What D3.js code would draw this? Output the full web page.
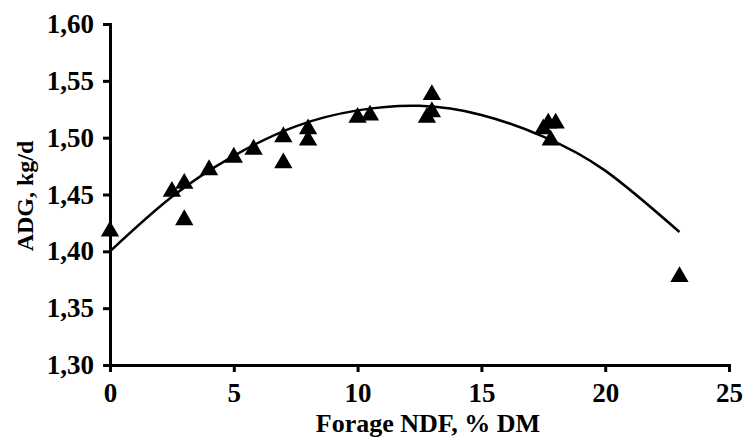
<!DOCTYPE html>
<html>
<head>
<meta charset="utf-8">
<script src="https://cdn.jsdelivr.net/npm/d3@7"></script>
<style>
  body { margin: 0; background: #fff; }
  text { font-family: "Liberation Serif", "Times New Roman", serif; font-weight: bold; fill: #000; }
</style>
</head>
<body>
<div id="chart"></div>
<script>
// observed points: forage NDF (% DM) and ADG (kg/d)
var ndfValues = [0, 2.5, 3, 3, 4, 5, 5.8, 7, 7, 8, 8, 10, 10.5, 12.8, 13, 13, 17.5, 17.7, 18, 17.8, 23];
var adgValues = [1.42, 1.455, 1.462, 1.43, 1.474, 1.485, 1.492, 1.503, 1.48, 1.51, 1.50, 1.52, 1.522, 1.52, 1.54, 1.525, 1.51, 1.515, 1.515, 1.50, 1.38];

// fitted trend line
var trendX = [0, 2.5, 5, 7.5, 10, 12.5, 15, 17.5, 20, 23];
var trendY = [1.400, 1.448, 1.484, 1.510, 1.524, 1.528, 1.520, 1.501, 1.471, 1.417];

var xTicks = [0, 5, 10, 15, 20, 25];
var yTicks = [1.30, 1.35, 1.40, 1.45, 1.50, 1.55, 1.60];

var width = 745,
    height = 437,
    margin = {top: 24, right: 16, bottom: 72, left: 110};

var svg = d3.select("#chart")
            .append("svg")
            .attr("width", width)
            .attr("height", height);

var xScale = d3.scaleLinear()
               .domain([0, 25])
               .range([margin.left, width - margin.right]);

var yScale = d3.scaleLinear()
               .domain([1.30, 1.60])
               .range([height - margin.bottom, margin.top]);

var comma = function(d) { return d3.format(".2f")(d).replace(".", ","); };

// x axis
var xAxis = svg.append("g")
               .attr("transform", "translate(0," + yScale(1.30) + ")")
               .call(d3.axisBottom(xScale).tickValues(xTicks).tickSize(7).tickPadding(11).tickFormat(d3.format("d")));

// y axis
var yAxis = svg.append("g")
               .attr("transform", "translate(" + xScale(0) + ",0)")
               .call(d3.axisLeft(yScale).tickValues(yTicks).tickSize(7).tickPadding(9).tickFormat(comma));

[xAxis, yAxis].forEach(function(ax) {
  ax.select(".domain").attr("stroke", "#000").attr("stroke-width", 3);
  ax.selectAll(".tick line").attr("stroke", "#000").attr("stroke-width", 3);
  ax.selectAll(".tick text").style("font-size", "27px").style("font-family", "Liberation Serif").style("font-weight", "bold").attr("fill", "#000");
});

// axis titles
svg.append("text")
   .attr("x", 428)
   .attr("y", 432)
   .style("text-anchor", "middle")
   .style("font-size", "26px")
   .text("Forage NDF, % DM");

svg.append("text")
   .attr("transform", "translate(33,196) rotate(-90)")
   .style("text-anchor", "middle")
   .style("font-size", "24px")
   .text("ADG, kg/d");

// trend line
var line = d3.line()
             .x(function(d) { return xScale(d[0]); })
             .y(function(d) { return yScale(d[1]); })
             .curve(d3.curveNatural);

svg.append("path")
   .datum(d3.zip(trendX, trendY))
   .attr("d", line)
   .attr("fill", "none")
   .attr("stroke", "#000")
   .attr("stroke-width", 2.5);

// triangles, centred on their box like spreadsheet markers
var triSize = 145,
    triShift = Math.sqrt(triSize / (3 * Math.sqrt(3))) / 2;

svg.selectAll(".pt")
   .data(d3.zip(ndfValues, adgValues))
   .enter()
   .append("path")
   .attr("class", "pt")
   .attr("d", d3.symbol().type(d3.symbolTriangle).size(triSize))
   .attr("transform", function(d) {
     return "translate(" + xScale(d[0]) + "," + (yScale(d[1]) + triShift) + ")";
   })
   .attr("fill", "#000");
</script>
</body>
</html>
